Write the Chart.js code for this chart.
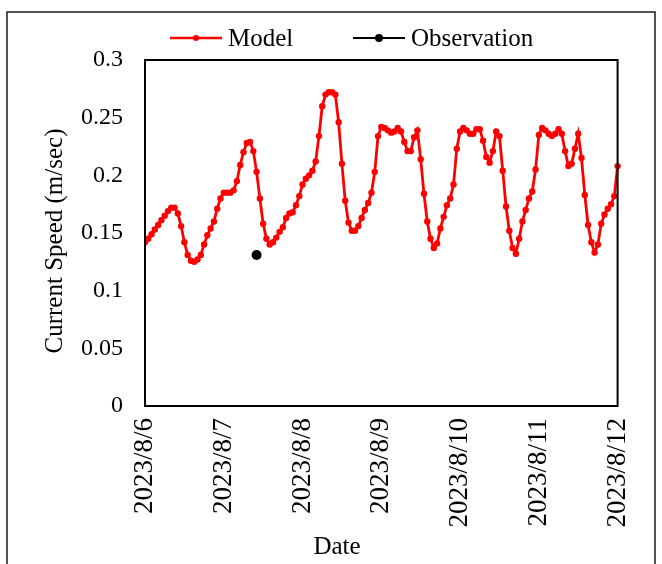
<!DOCTYPE html>
<html>
<head>
<meta charset="utf-8">
<script src="https://cdn.jsdelivr.net/npm/chart.js@4.4.0/dist/chart.umd.min.js"></script>
<style>
  html, body { margin: 0; padding: 0; background: #fff; }
  #wrap { width: 662px; height: 564px; }
</style>
</head>
<body>
<div id="wrap"><canvas id="speedChart" width="662" height="564"></canvas></div>
<script>
// hourly model output, 2023/8/6 00:00 onwards (hour index = position)
const modelSpeed = [
  0.142, 0.145, 0.149, 0.153, 0.157, 0.161, 0.165, 0.169, 0.172, 0.172, 0.167, 0.156,
  0.142, 0.131, 0.126, 0.125, 0.127, 0.131, 0.140, 0.148, 0.154, 0.160, 0.171, 0.180,
  0.185, 0.185, 0.185, 0.187, 0.195, 0.209, 0.220, 0.228, 0.229, 0.221, 0.203, 0.180,
  0.158, 0.145, 0.140, 0.142, 0.146, 0.151, 0.155, 0.163, 0.167, 0.168, 0.174, 0.182,
  0.192, 0.197, 0.200, 0.204, 0.212, 0.234, 0.260, 0.270, 0.272, 0.272, 0.270, 0.246,
  0.210, 0.178, 0.159, 0.152, 0.152, 0.156, 0.163, 0.170, 0.176, 0.185, 0.203, 0.234,
  0.242, 0.241, 0.239, 0.237, 0.238, 0.241, 0.238, 0.229, 0.221, 0.221, 0.233, 0.239,
  0.214, 0.184, 0.160, 0.145, 0.137, 0.141, 0.154, 0.164, 0.174, 0.180, 0.192, 0.223,
  0.238, 0.241, 0.239, 0.236, 0.236, 0.240, 0.240, 0.230, 0.216, 0.211, 0.221, 0.238,
  0.234, 0.204, 0.173, 0.152, 0.137, 0.132, 0.145, 0.160, 0.170, 0.180, 0.186, 0.205,
  0.235, 0.241, 0.239, 0.236, 0.234, 0.236, 0.240, 0.236, 0.221, 0.208, 0.210, 0.223,
  0.236, 0.215, 0.183, 0.157, 0.142, 0.133, 0.140, 0.158, 0.166, 0.171, 0.175, 0.182,
  0.208, 0.226
];

// field measurement (hour index, speed)
const obsHours = [34];
const obsSpeed = [0.131];

const dateLabels = ["2023/8/6", "2023/8/7", "2023/8/8", "2023/8/9", "2023/8/10", "2023/8/11", "2023/8/12"];
const yTicks = [0, 0.05, 0.1, 0.15, 0.2, 0.25, 0.3];

const lastHour = (dateLabels.length - 1) * 24;
const serif = "'Liberation Serif', 'Times New Roman', serif";

// white page + outer frame, box around the plot, axis titles and the line/marker legend
const framePlugin = {
  id: "frame",
  beforeDraw(chart) {
    const c = chart.ctx;
    c.save();
    c.fillStyle = "#fff";
    c.fillRect(0, 0, chart.width, chart.height);
    c.strokeStyle = "#1a1a1a";
    c.lineWidth = 1.5;
    c.strokeRect(7, 12, 648, 600);
    c.restore();
  },
  afterDraw(chart) {
    const c = chart.ctx;
    const a = chart.chartArea;
    c.save();
    c.strokeStyle = "#000";
    c.lineWidth = 2;
    c.strokeRect(a.left, a.top, a.right - a.left, a.bottom - a.top);

    c.font = "25px " + serif;
    c.fillStyle = "#000";
    c.textAlign = "center";
    c.textBaseline = "middle";
    c.fillText("Date", 337, 547);
    c.save();
    c.translate(55, 241);
    c.rotate(-Math.PI / 2);
    c.fillText("Current Speed (m/sec)", 0, 0);
    c.restore();

    const items = [
      { ds: chart.data.datasets[0], x: 170, r: 3, w: 2.5 },
      { ds: chart.data.datasets[1], x: 353, r: 4, w: 2 }
    ];
    const y = 38;
    c.textAlign = "left";
    items.forEach(it => {
      c.strokeStyle = it.ds.borderColor;
      c.fillStyle = it.ds.pointBackgroundColor;
      c.lineWidth = it.w;
      c.beginPath();
      c.moveTo(it.x, y);
      c.lineTo(it.x + 52, y);
      c.stroke();
      c.beginPath();
      c.arc(it.x + 26, y, it.r, 0, Math.PI * 2);
      c.fill();
      c.fillStyle = "#000";
      c.fillText(it.ds.label, it.x + 58, y + 1);
    });
    c.restore();
  }
};

const ctx = document.getElementById("speedChart").getContext("2d");

new Chart(ctx, {
  type: "line",
  data: {
    datasets: [
      {
        label: "Model",
        data: modelSpeed.map((v, h) => ({ x: h, y: v })),
        borderColor: "#ff0000",
        backgroundColor: "#ff0000",
        pointBackgroundColor: "#ff0000",
        pointBorderWidth: 0,
        pointRadius: c => (c.raw && c.raw.x > lastHour ? 0 : 3.2),
        borderWidth: 2.8,
        tension: 0,
        clip: { left: 0, top: 0, right: 4, bottom: 0 }
      },
      {
        label: "Observation",
        data: obsHours.map((h, i) => ({ x: h, y: obsSpeed[i] })),
        borderColor: "#000",
        backgroundColor: "#000",
        pointBackgroundColor: "#000",
        pointBorderWidth: 0,
        pointRadius: 5,
        showLine: false
      }
    ]
  },
  options: {
    responsive: false,
    animation: false,
    devicePixelRatio: 1,
    layout: { padding: { left: 36, top: 60, right: 44, bottom: 0 } },
    plugins: {
      legend: { display: false },
      tooltip: { enabled: false }
    },
    scales: {
      x: {
        type: "linear",
        min: 0,
        max: lastHour,
        afterFit: s => { s.height = 158; },
        afterBuildTicks: s => { s.ticks = dateLabels.map((_, i) => ({ value: i * 24 })); },
        grid: { display: false, drawTicks: false },
        border: { display: true, color: "#000", width: 2 },
        ticks: {
          autoSkip: false,
          minRotation: 90,
          maxRotation: 90,
          padding: 12,
          color: "#000",
          font: { family: serif, size: 27 },
          callback: v => dateLabels[Math.round(v / 24)]
        }
      },
      y: {
        min: 0,
        max: 0.3,
        afterFit: s => { s.width = 109; },
        afterBuildTicks: s => { s.ticks = yTicks.map(v => ({ value: v })); },
        grid: { display: false, drawTicks: false },
        border: { display: true, color: "#000", width: 2 },
        ticks: {
          padding: 22,
          color: "#000",
          font: { family: serif, size: 24 },
          callback: v => String(Number(v.toFixed(2)))
        }
      }
    }
  },
  plugins: [framePlugin]
});
</script>
</body>
</html>
